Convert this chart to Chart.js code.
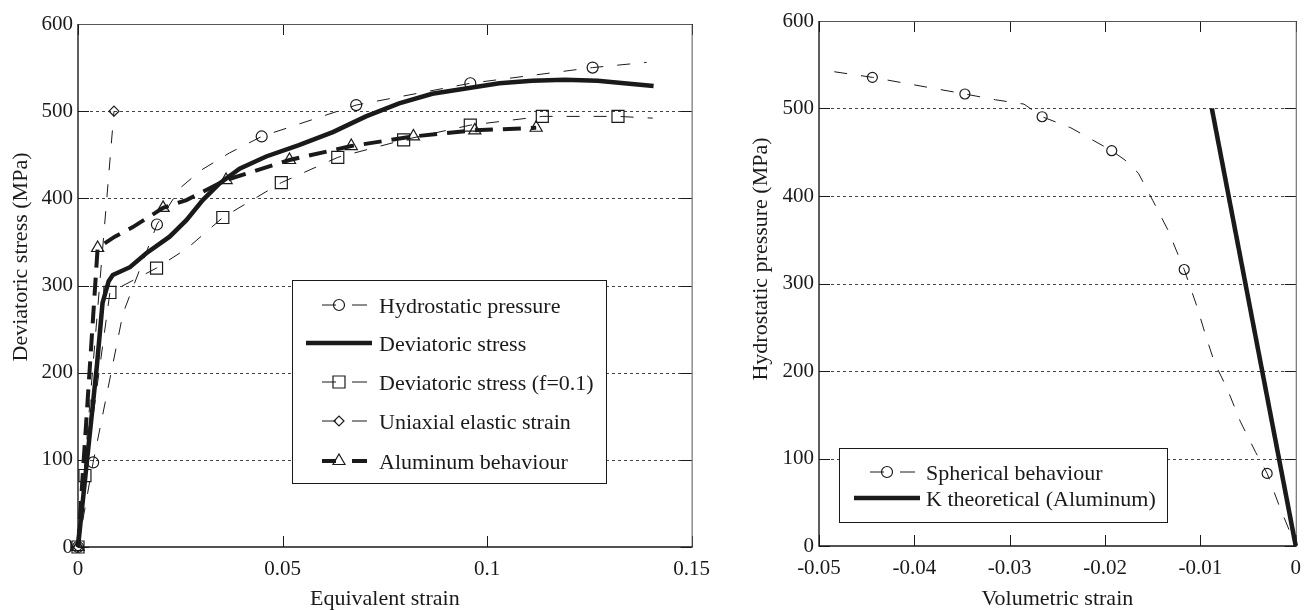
<!DOCTYPE html>
<html>
<head>
<meta charset="utf-8">
<script src="https://cdn.jsdelivr.net/npm/chart.js@4"></script>
<style>
  html, body { margin: 0; padding: 0; background: #fff; }
  #wrap { position: relative; width: 1311px; height: 610px; }
  canvas { position: absolute; top: 0; }
  #left { left: 0; }
  #right { left: 720px; }
</style>
</head>
<body>
<div id="wrap">
  <canvas id="left" width="720" height="610"></canvas>
  <canvas id="right" width="591" height="610"></canvas>
</div>
<script>
// ---- left panel: equivalent strain vs deviatoric stress (MPa) ----
const hydroStrain = [0, 0.0037, 0.011, 0.0193, 0.025, 0.030, 0.037, 0.0449, 0.068, 0.0959, 0.1258, 0.139];
const hydroStress = [0, 97, 268, 370, 412, 432, 452, 471, 507, 532, 550, 556];
const hydroMarkStrain = [0, 0.0037, 0.0193, 0.0449, 0.068, 0.0959, 0.1258];
const hydroMarkStress = [0, 97, 370, 471, 507, 532, 550];

const devStrain = [0, 0.0046, 0.006, 0.0075, 0.0085, 0.0127, 0.0167, 0.0224, 0.0265, 0.0305, 0.0346, 0.0395, 0.046, 0.054, 0.0623, 0.0704, 0.0785, 0.0866, 0.0948, 0.103, 0.111, 0.119, 0.127, 0.1407];
const devStress = [0, 207, 280, 305, 312, 321, 337, 356, 375, 398, 417, 434, 448, 461, 476, 494, 509, 520, 526, 532, 535, 536, 535, 529];

const fStrain = [0, 0.0017, 0.0078, 0.0192, 0.0268, 0.0354, 0.0497, 0.0635, 0.0796, 0.0959, 0.1135, 0.132, 0.1405];
const fStress = [0, 82, 292, 320, 343, 378, 418, 447, 467, 484, 494, 494, 492];
const fMarkStrain = [0, 0.0017, 0.0078, 0.0192, 0.0354, 0.0497, 0.0635, 0.0796, 0.0959, 0.1135, 0.132];
const fMarkStress = [0, 82, 292, 320, 378, 418, 447, 467, 484, 494, 494];

const uniStrain = [0, 0.0088];
const uniStress = [0, 500];

const alStrain = [0, 0.0048, 0.009, 0.0134, 0.0208, 0.0265, 0.0362, 0.0517, 0.0668, 0.082, 0.097, 0.112];
const alStress = [0, 343, 356, 367, 389, 398, 421, 444, 460, 471, 478, 481];
const alMarkStrain = [0, 0.0048, 0.0208, 0.0362, 0.0517, 0.0668, 0.082, 0.097, 0.112];
const alMarkStress = [0, 343, 389, 421, 444, 460, 471, 478, 481];

// ---- right panel: volumetric strain vs hydrostatic pressure (MPa) ----
const sphStrain = [-0.0484, -0.0444, -0.0347, -0.0315, -0.0285, -0.0266, -0.0236, -0.0193, -0.0179, -0.0165, -0.0150, -0.0134, -0.0117, -0.0104, -0.0094, -0.0085, -0.0072, -0.0058, -0.0042, -0.0030, -0.0017, 0];
const sphPressure = [542, 535.6, 516.6, 510, 505, 490.6, 478, 451.8, 441, 426, 395, 361, 316, 275, 239, 209, 180, 142, 107, 83, 45, 0];
const sphMarkStrain = [-0.0444, -0.0347, -0.0266, -0.0193, -0.0117, -0.003];
const sphMarkPressure = [535.6, 516.6, 490.6, 451.8, 316, 83];

const kStrain = [-0.0088, 0];
const kPressure = [500, 0];

const leftLabels = ['Hydrostatic pressure', 'Deviatoric stress', 'Deviatoric stress (f=0.1)', 'Uniaxial elastic strain', 'Aluminum behaviour'];
const rightLabels = ['Spherical behaviour', 'K theoretical (Aluminum)'];

const FONT = "'Liberation Serif', 'Times New Roman', serif";
const INK = '#1a1a1a';
const THIN_DASH = [13, 14];
const THICK_DASH = [18, 10];

function pts(xs, ys) {
    return xs.map((x, i) => ({ x, y: ys[i] }));
}

function curve(xs, ys, width, dash) {
    return {
        data: pts(xs, ys), showLine: true, borderColor: INK, borderWidth: width,
        borderDash: dash, pointRadius: 0, pointHoverRadius: 0, clip: false
    };
}

function marks(xs, ys, style, r) {
    return {
        data: pts(xs, ys), showLine: false, pointStyle: style, pointRadius: r, pointHoverRadius: r,
        pointBorderColor: INK, pointBackgroundColor: 'rgba(0,0,0,0)', pointBorderWidth: 1.2, clip: false
    };
}

function tickText(v) {
    return String(Number(v.toFixed(2)));
}

// dotted grid, inward ticks and the box
const framePlugin = {
    id: 'frame',
    beforeDatasetsDraw(chart) {
        const { ctx, chartArea: a, scales: { x, y } } = chart;
        ctx.save();
        ctx.lineWidth = 1;
        ctx.strokeStyle = '#444';
        ctx.setLineDash([3, 3]);
        y.ticks.forEach(t => {
            if (t.value === y.min || t.value === y.max) return;
            const py = Math.round(y.getPixelForValue(t.value)) + 0.5;
            ctx.beginPath(); ctx.moveTo(a.left, py); ctx.lineTo(a.right, py); ctx.stroke();
        });
        ctx.setLineDash([]);
        ctx.strokeStyle = INK;
        x.ticks.forEach(t => {
            const px = Math.round(x.getPixelForValue(t.value)) + 0.5;
            ctx.beginPath();
            ctx.moveTo(px, a.bottom); ctx.lineTo(px, a.bottom - 11);
            ctx.moveTo(px, a.top); ctx.lineTo(px, a.top + 11);
            ctx.stroke();
        });
        y.ticks.forEach(t => {
            const py = Math.round(y.getPixelForValue(t.value)) + 0.5;
            ctx.beginPath();
            ctx.moveTo(a.left, py); ctx.lineTo(a.left + 11, py);
            ctx.moveTo(a.right, py); ctx.lineTo(a.right - 11, py);
            ctx.stroke();
        });
        ctx.strokeStyle = '#555';
        ctx.beginPath();
        ctx.moveTo(a.left, a.top + 0.5); ctx.lineTo(a.right + 0.5, a.top + 0.5); ctx.lineTo(a.right + 0.5, a.bottom);
        ctx.stroke();
        ctx.strokeStyle = INK;
        ctx.lineWidth = 1.4;
        ctx.beginPath();
        ctx.moveTo(a.left, a.top); ctx.lineTo(a.left, a.bottom); ctx.lineTo(a.right + 1, a.bottom);
        ctx.stroke();
        ctx.restore();
    }
};

function drawMarker(ctx, kind, x, y) {
    ctx.beginPath();
    if (kind === 'circle') ctx.arc(x, y, 5.5, 0, Math.PI * 2);
    if (kind === 'rect') ctx.rect(x - 6, y - 6, 12, 12);
    if (kind === 'rectRot') { ctx.moveTo(x - 5, y); ctx.lineTo(x, y - 5); ctx.lineTo(x + 5, y); ctx.lineTo(x, y + 5); ctx.closePath(); }
    if (kind === 'triangle') { ctx.moveTo(x, y - 7); ctx.lineTo(x + 6, y + 3.5); ctx.lineTo(x - 6, y + 3.5); ctx.closePath(); }
    ctx.stroke();
}

// matlab-like legend box + rotated y title
const annotPlugin = {
    id: 'annot',
    afterDatasetsDraw(chart, args, opts) {
        const { ctx } = chart;
        const [l, t, r, b] = opts.box;
        ctx.save();
        ctx.fillStyle = '#fff';
        ctx.fillRect(l, t, r - l, b - t);
        ctx.strokeStyle = INK;
        ctx.lineWidth = 1;
        ctx.strokeRect(l + 0.5, t + 0.5, r - l, b - t);
        ctx.font = '22px ' + FONT;
        ctx.textBaseline = 'alphabetic';
        opts.items.forEach(it => {
            const my = it.base - 8;
            const mx = opts.markX;
            ctx.strokeStyle = INK;
            ctx.lineWidth = it.width;
            ctx.beginPath();
            if (it.kind === 'solid') {
                ctx.moveTo(mx - 33, my); ctx.lineTo(mx + 33, my);
            } else {
                ctx.moveTo(mx - 17, my); ctx.lineTo(mx - 3, my);
                ctx.moveTo(mx + 13, my); ctx.lineTo(mx + 28, my);
            }
            ctx.stroke();
            if (it.marker) {
                ctx.lineWidth = 1.2;
                drawMarker(ctx, it.marker, mx, my);
            }
            ctx.fillStyle = INK;
            ctx.fillText(it.label, opts.textX, it.base);
        });
        ctx.translate(opts.titleX, opts.titleY);
        ctx.rotate(-Math.PI / 2);
        ctx.textAlign = 'center';
        ctx.textBaseline = 'middle';
        ctx.fillText(opts.yTitle, 0, 0);
        ctx.restore();
    }
};

function axisOptions(xMin, xMax, xStep, xTitle, xHeight, yWidth) {
    return {
        x: {
            type: 'linear', min: xMin, max: xMax,
            grid: { display: false, drawTicks: false }, border: { display: false },
            ticks: { stepSize: xStep, padding: 10, color: INK, font: { family: FONT, size: 21 }, callback: tickText, maxRotation: 0 },
            title: { display: true, text: xTitle, color: INK, padding: { top: 0, bottom: 0 }, font: { family: FONT, size: 22, lineHeight: 1 } },
            afterFit(scale) { scale.height = xHeight; }
        },
        y: {
            type: 'linear', min: 0, max: 600,
            grid: { display: false, drawTicks: false }, border: { display: false },
            ticks: { stepSize: 100, padding: 5, color: INK, font: { family: FONT, size: 21 } },
            afterFit(scale) { scale.width = yWidth; }
        }
    };
}

new Chart(document.getElementById('left'), {
    type: 'scatter',
    data: {
        datasets: [
            curve(uniStrain, uniStress, 1, THIN_DASH),
            marks(uniStrain, uniStress, 'rectRot', 5),
            curve(hydroStrain, hydroStress, 1, THIN_DASH),
            marks(hydroMarkStrain, hydroMarkStress, 'circle', 5.5),
            curve(fStrain, fStress, 1, THIN_DASH),
            marks(fMarkStrain, fMarkStress, 'rect', 8.5),
            curve(alStrain, alStress, 4, THICK_DASH),
            marks(alMarkStrain, alMarkStress, 'triangle', 7),
            curve(devStrain, devStress, 4.5, [])
        ]
    },
    options: {
        responsive: false, devicePixelRatio: 1, animation: false, events: [],
        layout: { padding: { top: 24, right: 26, left: 0, bottom: 0 } },
        scales: axisOptions(0, 0.15, 0.05, 'Equivalent strain', 63, 78),
        plugins: {
            legend: { display: false }, tooltip: { enabled: false },
            annot: {
                box: [292, 280, 606, 483], markX: 339, textX: 379,
                titleX: 21, titleY: 257, yTitle: 'Deviatoric stress (MPa)',
                items: [
                    { label: leftLabels[0], base: 313, kind: 'dash', width: 1, marker: 'circle' },
                    { label: leftLabels[1], base: 351, kind: 'solid', width: 4.5 },
                    { label: leftLabels[2], base: 390, kind: 'dash', width: 1, marker: 'rect' },
                    { label: leftLabels[3], base: 429, kind: 'dash', width: 1, marker: 'rectRot' },
                    { label: leftLabels[4], base: 469, kind: 'dash', width: 4, marker: 'triangle' }
                ]
            }
        }
    },
    plugins: [framePlugin, annotPlugin]
});

new Chart(document.getElementById('right'), {
    type: 'scatter',
    data: {
        datasets: [
            curve(sphStrain, sphPressure, 1, THIN_DASH),
            marks(sphMarkStrain, sphMarkPressure, 'circle', 5),
            curve(kStrain, kPressure, 4.5, [])
        ]
    },
    options: {
        responsive: false, devicePixelRatio: 1, animation: false, events: [],
        layout: { padding: { top: 21, right: 13, left: 0, bottom: 0 } },
        scales: axisOptions(-0.05, 0, 0.01, 'Volumetric strain', 64, 99),
        plugins: {
            legend: { display: false }, tooltip: { enabled: false },
            annot: {
                box: [119, 448, 447, 522], markX: 167, textX: 206,
                titleX: 41, titleY: 259, yTitle: 'Hydrostatic pressure (MPa)',
                items: [
                    { label: rightLabels[0], base: 480, kind: 'dash', width: 1, marker: 'circle' },
                    { label: rightLabels[1], base: 506, kind: 'solid', width: 4.5 }
                ]
            }
        }
    },
    plugins: [framePlugin, annotPlugin]
});
</script>
</body>
</html>
